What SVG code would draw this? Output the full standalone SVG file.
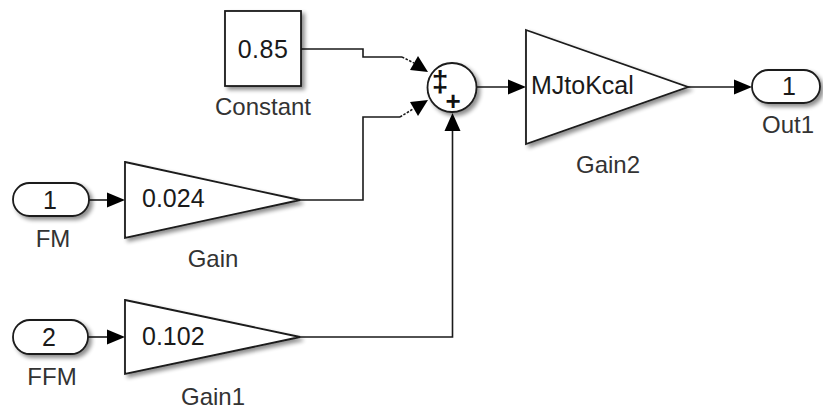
<svg xmlns="http://www.w3.org/2000/svg" width="823" height="412" viewBox="0 0 823 412">
<style>
  .blk { fill: #ffffff; stroke: #1a1a1a; stroke-width: 1.8; filter: url(#sh); }
  .ln { fill: none; stroke: #1a1a1a; stroke-width: 1.6; }
  .dl { fill: none; stroke: #1a1a1a; stroke-width: 1.6; stroke-dasharray: 2.5 1.5; }
  .ah { fill: #000000; stroke: none; }
  text { font-family: "Liberation Sans", Arial, sans-serif; fill: #1a1a1a; }
  .in { font-size: 25px; }
  .lb { font-size: 24px; text-anchor: middle; fill: #333333; }
  .mid { text-anchor: middle; }
  .sg { text-anchor: middle; font-weight: bold; fill: #111111; }
</style>
<defs>
  <filter id="sh" x="-20%" y="-20%" width="150%" height="150%">
    <feGaussianBlur in="SourceAlpha" stdDeviation="2"/>
    <feOffset dx="2.5" dy="2.5" result="b"/>
    <feComponentTransfer><feFuncA type="linear" slope="0.45"/></feComponentTransfer>
    <feMerge><feMergeNode/><feMergeNode in="SourceGraphic"/></feMerge>
  </filter>
</defs>
<rect width="823" height="412" fill="#ffffff"/>

<g id="connectors">
  <!-- Constant to Sum -->
  <polyline class="ln" points="301,49 363,49 363,57 402,57"/>
  <line class="dl" x1="402" y1="57" x2="414" y2="63"/>
  <polygon class="ah" points="418,56 410,70 428,72"/>
  <!-- Gain to Sum -->
  <polyline class="ln" points="300,200 363,200 363,117 400,117"/>
  <line class="dl" x1="400" y1="117" x2="413" y2="109"/>
  <polygon class="ah" points="418,116 410,102 428,100"/>
  <!-- Gain1 to Sum -->
  <polyline class="ln" points="300,337 452.5,337 452.5,130"/>
  <polygon class="ah" points="452.5,113 444.5,131 460.5,131"/>
  <!-- FM to Gain -->
  <line class="ln" x1="89" y1="200" x2="108" y2="200"/>
  <polygon class="ah" points="107,192.5 125,200 107,207.5"/>
  <!-- FFM to Gain1 -->
  <line class="ln" x1="88" y1="337" x2="108" y2="337"/>
  <polygon class="ah" points="107,329.5 125,337 107,344.5"/>
  <!-- Sum to Gain2 -->
  <line class="ln" x1="476.5" y1="87" x2="509" y2="87"/>
  <polygon class="ah" points="508,79.5 526,87 508,94.5"/>
  <!-- Gain2 to Out1 -->
  <line class="ln" x1="688" y1="87" x2="735" y2="87"/>
  <polygon class="ah" points="734,79.5 752,87 734,94.5"/>
</g>

<g id="Constant">
  <rect class="blk" x="225" y="11" width="76" height="75"/>
  <text class="in mid" x="263" y="57.5" letter-spacing="0.5">0.85</text>
  <text class="lb" x="263" y="115">Constant</text>
</g>

<g id="Sum">
  <circle class="blk" cx="452" cy="87.5" r="24.5"/>
  <text class="sg" x="440" y="92" font-size="30">‡</text>
  <text class="sg" x="453" y="109.5" font-size="26">+</text>
</g>

<g id="FM">
  <rect class="blk" x="13" y="183" width="76" height="33" rx="16.5"/>
  <text class="in mid" x="50" y="208.5">1</text>
  <text class="lb" x="53" y="247">FM</text>
</g>

<g id="FFM">
  <rect class="blk" x="13" y="320" width="75" height="34" rx="17"/>
  <text class="in mid" x="49" y="345.5">2</text>
  <text class="lb" x="52" y="385">FFM</text>
</g>

<g id="Gain">
  <polygon class="blk" points="125,162 300,200 125,238"/>
  <text class="in" x="142" y="207">0.024</text>
  <text class="lb" x="213" y="267">Gain</text>
</g>

<g id="Gain1">
  <polygon class="blk" points="125,300 300,337 125,374"/>
  <text class="in" x="142" y="345">0.102</text>
  <text class="lb" x="213" y="405">Gain1</text>
</g>

<g id="Gain2">
  <polygon class="blk" points="526,30 688,87 526,144"/>
  <text class="in" x="531" y="94">MJtoKcal</text>
  <text class="lb" x="608" y="173">Gain2</text>
</g>

<g id="Out1">
  <rect class="blk" x="752" y="70" width="68" height="33" rx="16.5"/>
  <text class="in mid" x="789" y="95">1</text>
  <text class="lb" x="788" y="133">Out1</text>
</g>
</svg>
